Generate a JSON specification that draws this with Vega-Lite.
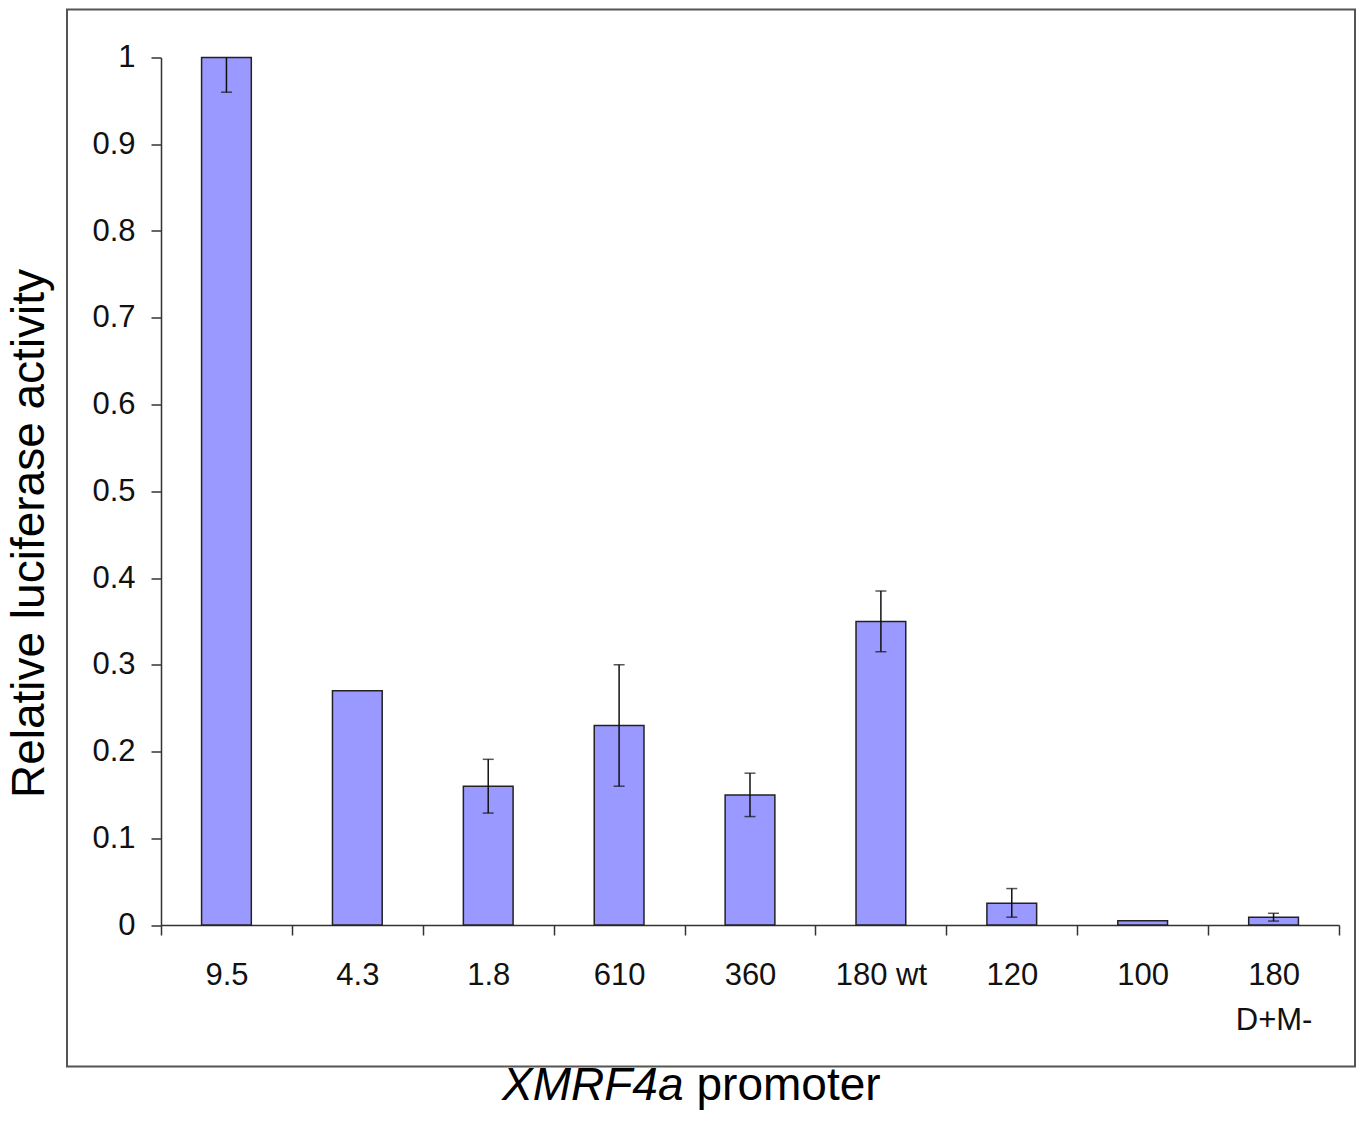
{
  "$schema": "https://vega.github.io/schema/vega-lite/v6.json",
  "width": 1288,
  "height": 1057,
  "autosize": "none",
  "padding": {"left": 67, "top": 9.5, "right": 8, "bottom": 54.5},
  "background": "white",
  "config": {
    "view": {"stroke": "#555555", "strokeWidth": 2},
    "font": "Liberation Sans",
    "axis": {"grid": false}
  },
  "data": {
    "values": [
      {"promoter": "9.5", "value": 1.0, "lo": 0.96, "hi": 1.04},
      {"promoter": "4.3", "value": 0.27},
      {"promoter": "1.8", "value": 0.16, "lo": 0.129, "hi": 0.191},
      {"promoter": "610", "value": 0.23, "lo": 0.16, "hi": 0.30},
      {"promoter": "360", "value": 0.15, "lo": 0.125, "hi": 0.175},
      {"promoter": "180 wt", "value": 0.35, "lo": 0.315, "hi": 0.385},
      {"promoter": "120", "value": 0.025, "lo": 0.009, "hi": 0.042},
      {"promoter": "100", "value": 0.005},
      {"promoter": "180 D+M-", "value": 0.009, "lo": 0.0045, "hi": 0.0135}
    ]
  },
  "resolve": {"scale": {"x": "independent"}, "axis": {"x": "independent"}},
  "layer": [
    {
      "encoding": {
        "x": {
          "field": "promoter",
          "type": "nominal",
          "sort": null,
          "scale": {"type": "band", "range": [94, 1272], "paddingInner": 0, "paddingOuter": 0},
          "axis": {
            "orient": "bottom",
            "offset": -141.5,
            "tickBand": "extent",
            "tickSize": 10,
            "tickColor": "#333333",
            "tickWidth": 1.5,
            "domainColor": "#333333",
            "domainWidth": 1.5,
            "labelAngle": 0,
            "labelFont": "Liberation Sans",
            "labelFontSize": 31,
            "labelColor": "#111111",
            "labelPadding": 25.5,
            "labelLineHeight": 45,
            "labelExpr": "datum.label == '180 D+M-' ? ['180', 'D+M-'] : datum.label",
            "title": "XMRF4a",
            "titleFont": "Liberation Sans",
            "titleFontStyle": "italic",
            "titleFontWeight": "normal",
            "titleFontSize": 46,
            "titleColor": "#000000",
            "titleAnchor": null,
            "titleAlign": "right",
            "titleBaseline": "alphabetic",
            "titleX": 616,
            "titleY": 174
          }
        },
        "y": {
          "type": "quantitative",
          "scale": {"domain": [0, 1], "range": [915.5, 48], "nice": false, "zero": true},
          "axis": {
            "orient": "left",
            "offset": -94,
            "values": [0, 0.1, 0.2, 0.3, 0.4, 0.5, 0.6, 0.7, 0.8, 0.9, 1],
            "format": ".1~f",
            "tickSize": 10,
            "tickColor": "#333333",
            "tickWidth": 1.5,
            "domainColor": "#333333",
            "domainWidth": 1.5,
            "labelFont": "Liberation Sans",
            "labelFontSize": 31,
            "labelColor": "#111111",
            "labelPadding": 16,
            "title": "Relative luciferase activity",
            "titleFont": "Liberation Sans",
            "titleFontWeight": "normal",
            "titleFontSize": 46,
            "titleColor": "#000000",
            "titleAnchor": null,
            "titleAngle": 270,
            "titleAlign": "center",
            "titleBaseline": "alphabetic",
            "titleX": -118,
            "titleY": 523.5
          }
        }
      },
      "layer": [
        {
          "mark": {"type": "bar", "width": {"band": 0.38}, "fill": "#9999FF", "stroke": "#222222", "strokeWidth": 1.5},
          "encoding": {"y": {"field": "value", "type": "quantitative"}}
        },
        {
          "transform": [{"filter": "isValid(datum.lo)"}],
          "mark": {"type": "rule", "color": "#111111", "strokeWidth": 1.5},
          "encoding": {
            "y": {"field": "lo", "type": "quantitative", "scale": {"clamp": true}},
            "y2": {"field": "hi"}
          }
        },
        {
          "transform": [{"filter": "isValid(datum.lo)"}],
          "mark": {"type": "tick", "color": "#111111", "size": 11, "thickness": 1.5},
          "encoding": {"y": {"field": "lo", "type": "quantitative"}}
        },
        {
          "transform": [{"filter": "isValid(datum.hi) && datum.hi <= 1"}],
          "mark": {"type": "tick", "color": "#111111", "size": 11, "thickness": 1.5},
          "encoding": {"y": {"field": "hi", "type": "quantitative"}}
        }
      ]
    },
    {
      "mark": {"type": "rule", "opacity": 0},
      "encoding": {
        "x": {
          "field": "promoter",
          "type": "nominal",
          "sort": null,
          "scale": {"type": "band", "range": [94, 1272], "paddingInner": 0, "paddingOuter": 0},
          "axis": {
            "orient": "bottom",
            "offset": -141.5,
            "labels": false,
            "ticks": false,
            "domain": false,
            "title": "promoter",
            "titleFont": "Liberation Sans",
            "titleFontStyle": "normal",
            "titleFontWeight": "normal",
            "titleFontSize": 46,
            "titleColor": "#000000",
            "titleAnchor": null,
            "titleAlign": "left",
            "titleBaseline": "alphabetic",
            "titleX": 629,
            "titleY": 174
          }
        }
      }
    }
  ]
}
